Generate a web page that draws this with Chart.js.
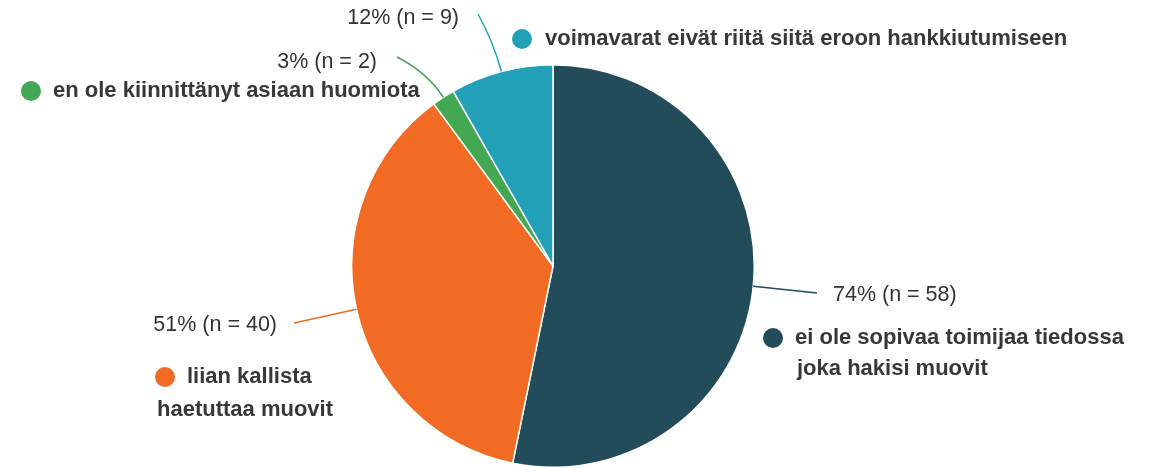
<!DOCTYPE html>
<html>
<head>
<meta charset="utf-8">
<script src="https://cdn.jsdelivr.net/npm/chart.js@4.4.1/dist/chart.umd.min.js"></script>
<style>
  body { margin: 0; background: #fff; }
  #wrap { width: 1155px; height: 468px; position: relative; }
</style>
</head>
<body>
<div id="wrap"><canvas id="pieChart"></canvas></div>
<script>
// Answer categories, clockwise from the top
const categories = [
  'ei ole sopivaa toimijaa tiedossa joka hakisi muovit',
  'liian kallista haetuttaa muovit',
  'en ole kiinnittänyt asiaan huomiota',
  'voimavarat eivät riitä siitä eroon hankkiutumiseen'
];
// Respondent counts per answer
const counts = [58, 40, 2, 9];
// Share of respondents (%) as shown in the labels
const percents = [74, 51, 3, 12];
const colors = ['#234C5B', '#F16B24', '#44A853', '#22A0B7'];

// Label layout for each slice (annotation placement only)
const labelLayout = [
  { pct: [833, 295, 'left'], lineEnd: [817, 293], dot: [773, 338],
    lines: [['ei ole sopivaa toimijaa tiedossa', 795, 338], ['joka hakisi muovit', 797, 369]] },
  { pct: [277, 325, 'right'], lineEnd: [294, 323], dot: [165, 377],
    lines: [['liian kallista', 187, 377], ['haetuttaa muovit', 157, 410]] },
  { pct: [377, 62, 'right'], lineEnd: [397, 57], dot: [31, 91],
    lines: [['en ole kiinnittänyt asiaan huomiota', 53, 91]] },
  { pct: [459, 18, 'right'], lineEnd: [478, 14], dot: [522, 39],
    lines: [['voimavarat eivät riitä siitä eroon hankkiutumiseen', 545, 39]] }
];

// Draws leader lines, percentage labels and the dotted category labels
const pieLabels = {
  id: 'pieLabels',
  afterDatasetsDraw(chart) {
    const ctx = chart.ctx;
    const arcs = chart.getDatasetMeta(0).data;
    ctx.save();
    arcs.forEach((arc, i) => {
      const lay = labelLayout[i];
      const mid = (arc.startAngle + arc.endAngle) / 2;
      const r = arc.outerRadius;
      const x0 = arc.x + Math.cos(mid) * r;
      const y0 = arc.y + Math.sin(mid) * r;
      const cx = arc.x + Math.cos(mid) * (r + 30);
      const cy = arc.y + Math.sin(mid) * (r + 30);

      // leader line
      ctx.beginPath();
      ctx.moveTo(x0, y0);
      ctx.quadraticCurveTo(cx, cy, lay.lineEnd[0], lay.lineEnd[1]);
      ctx.strokeStyle = colors[i];
      ctx.lineWidth = 1.5;
      ctx.stroke();

      // percentage label
      ctx.fillStyle = '#333';
      ctx.font = '21.5px "Liberation Sans", Arial, sans-serif';
      ctx.textBaseline = 'middle';
      ctx.textAlign = lay.pct[2];
      ctx.fillText(percents[i] + '% (n = ' + counts[i] + ')', lay.pct[0], lay.pct[1]);

      // dot + category text
      ctx.beginPath();
      ctx.arc(lay.dot[0], lay.dot[1], 10, 0, Math.PI * 2);
      ctx.fillStyle = colors[i];
      ctx.fill();

      ctx.fillStyle = '#383838';
      ctx.font = 'bold 22px "Liberation Sans", Arial, sans-serif';
      ctx.textAlign = 'left';
      lay.lines.forEach(l => ctx.fillText(l[0], l[1], l[2]));
    });
    ctx.restore();
  }
};

const ctx = document.getElementById('pieChart').getContext('2d');
const pieChart = new Chart(ctx, {
  type: 'pie',
  data: {
    labels: categories,
    datasets: [{
      data: counts,
      backgroundColor: colors,
      borderColor: '#fff',
      borderWidth: 1.5
    }]
  },
  options: {
    responsive: true,
    maintainAspectRatio: false,
    animation: false,
    layout: { padding: { top: 64, bottom: 0, left: 0, right: 49 } },
    plugins: {
      legend: { display: false },
      tooltip: { enabled: false }
    }
  },
  plugins: [pieLabels]
});
</script>
</body>
</html>
